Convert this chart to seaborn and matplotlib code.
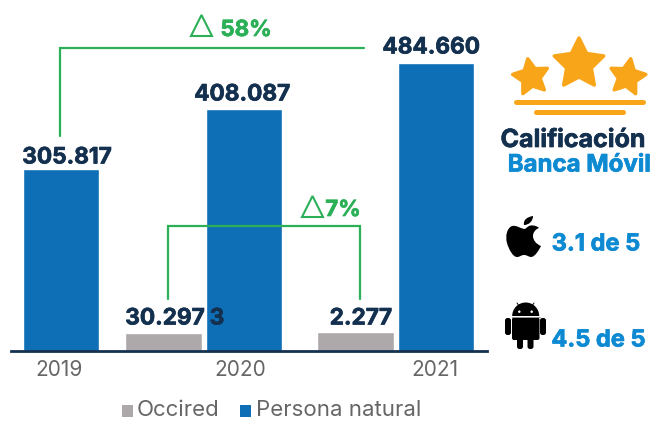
import numpy as np
import pandas as pd
import matplotlib
matplotlib.use('Agg')
import matplotlib.pyplot as plt
import matplotlib.patheffects as pe
from matplotlib.patches import Ellipse, FancyBboxPatch, Polygon, Wedge, PathPatch
from matplotlib.path import Path
import seaborn as sns

years = ['2019', '2020', '2021']
occired = [np.nan, 30297, 32277]
persona = [305817, 408087, 484660]
series_names = ['Occired', 'Persona natural']
persona_labels = ['305.817', '408.087', '484.660']
# the 2021 Occired label is split: its "3" sits behind the 2020 blue bar in the original
occired_labels = ['30.297', '3', '2.277']

NAVY = '#14304F'
BLUE = '#0F6FB6'
GRAY = '#ADA8A9'
GREEN = '#2BB057'
SKY = '#0E8AD3'
ORANGE = '#F9A51A'
FONT = ['Inter', 'DejaVu Sans']

sns.set_theme(style='white')
plt.rcParams['font.family'] = FONT

W, H = 652, 421
fig = plt.figure(figsize=(W / 100, H / 100), dpi=100)

# bars axes: spine is the baseline at y=351, x from 11 to 487
ax = fig.add_axes([11 / W, 1 - 351 / H, (487 - 11) / W, (351 - 20) / H])
df = pd.DataFrame({'year': years * 2,
                   'serie': [series_names[0]] * 3 + [series_names[1]] * 3,
                   'value': occired + persona})
sns.barplot(data=df, x='year', y='value', hue='serie', order=years, hue_order=series_names,
            palette=[GRAY, BLUE], width=0.859, gap=0.05, legend=False, saturation=1, ax=ax)
ax.set_xlim(-0.052, 2.486)
ax.set_ylim(0, 331 / 0.000594)

# 2020 group is a little closer to 2019 in the original
for p in ax.patches:
    if 0.5 < p.get_x() + p.get_width() / 2 < 1.5:
        p.set_x(p.get_x() - 0.024)

sns.despine(ax=ax, left=True)
ax.spines['bottom'].set_color(NAVY)
ax.spines['bottom'].set_linewidth(2)
ax.set_yticks([])
ax.set_xlabel('')
ax.set_ylabel('')
ax.set_xticks([])

# overlay in pixel coordinates for annotations and icons
ov = fig.add_axes([0, 0, 1, 1])
ov.set_xlim(0, W)
ov.set_ylim(H, 0)
ov.axis('off')


def txt(x, y, s, size, color, weight='bold', ha='center', va='center_baseline'):
    t = ov.text(x, y, s, fontsize=size, color=color, fontweight=weight, ha=ha, va=va)
    if weight == 'bold':
        # the original face is heavier than Inter bold
        t.set_path_effects([pe.withStroke(linewidth=0.5, foreground=color)])


for x, s in zip([59, 240.5, 435], years):
    txt(x, 368, s, 15, '#666666', 'normal')

for x, y, s in zip([67, 242, 431], [155, 92, 45], persona_labels):
    txt(x, y, s, 16.3, NAVY)
for x, y, s in zip([165, 217, 361], [316, 316, 316], occired_labels):
    txt(x, y, s, 16.3, NAVY)

# change brackets
ov.plot([60, 60, 364], [136, 47.5, 47.5], color=GREEN, lw=1.6, solid_joinstyle='miter')
ov.plot([168, 168, 360, 360], [299, 226, 226, 299], color=GREEN, lw=1.6, solid_joinstyle='miter')
for x0, y0 in [(191, 36), (302, 217)]:
    ov.add_patch(Polygon([[x0, y0], [x0 + 21, y0], [x0 + 10.5, y0 - 21]], closed=True, fill=False,
                         edgecolor=GREEN, lw=1.5))
txt(246, 28, '58%', 16, GREEN)
txt(343, 208, '7%', 16, GREEN)

# legend
ov.add_patch(plt.Rectangle((122, 405), 11, 12, color=GRAY, lw=0))
ov.add_patch(plt.Rectangle((240, 405), 11, 12, color=BLUE, lw=0))
txt(137, 416, series_names[0], 16, '#666666', 'normal', 'left', 'baseline')
txt(256, 416, series_names[1], 16, '#666666', 'normal', 'left', 'baseline')


# stars
def star(cx, cy, r, rot=0):
    ang = np.deg2rad(np.arange(10) * 36 - 90 + rot)
    rad = np.where(np.arange(10) % 2 == 0, r, r * 0.5)
    pts = np.c_[cx + rad * np.cos(ang), cy + rad * np.sin(ang)]
    ov.add_patch(Polygon(pts, closed=True, facecolor=ORANGE, edgecolor=ORANGE, lw=2.5, joinstyle='round'))


star(531, 77, 18.5, -10)
star(579, 64, 26)
star(627.5, 77, 18.5, 10)
ov.plot([516, 643], [101.5, 101.5], color=ORANGE, lw=3.6, solid_capstyle='round')
ov.plot([536, 623], [112, 112], color=ORANGE, lw=3.6, solid_capstyle='round')

txt(573, 138, 'Calificación', 18, NAVY)
txt(579.5, 163, 'Banca Móvil', 17.3, SKY)

# apple icon
C4 = Path.CURVE4
apple = [(524, 229), (520, 228), (516, 225), (512, 226), (507, 228), (505, 236), (507, 243),
         (509, 250), (513, 257), (517, 257), (520, 257), (521, 255), (524, 255), (527, 255),
         (529, 257), (531, 257), (535, 257), (539, 250), (541, 246), (536, 244), (533, 240),
         (533, 236), (533, 232), (536, 229), (539, 228), (536, 225), (531, 225), (529, 226),
         (527, 227), (526, 229), (524, 229)]
ov.add_patch(PathPatch(Path(apple, [Path.MOVETO] + [C4] * 30), color='black', lw=0))
leaf = [(524, 225), (523, 220), (527, 217), (533, 216), (533, 221), (529, 225), (524, 225)]
ov.add_patch(PathPatch(Path(leaf, [Path.MOVETO] + [C4] * 6), color='black', lw=0))


# android icon
def rbox(x, y, w, h, r=2.5):
    ov.add_patch(FancyBboxPatch((x + r, y + r), w - 2 * r, h - 2 * r, boxstyle='round,pad=%g,rounding_size=%g' % (r, r),
                                color='black', lw=0))


ov.add_patch(Wedge((525.7, 316), 13.5, 180, 360, color='black', lw=0))
ov.plot([517, 520.5], [303, 308], color='black', lw=0.7)
ov.plot([534, 530.5], [303, 308], color='black', lw=0.7)
rbox(512, 317.5, 27.5, 22.5, 2)
rbox(505, 318, 6, 17)
rbox(540, 318, 6, 17)
rbox(517, 335, 6, 14)
rbox(527.5, 335, 6, 14)
ov.plot([512, 539.5], [317, 317], color='#999999', lw=0.7)
ov.add_patch(Ellipse((519.3, 311.7), 2.5, 2.5, color='white', lw=0))
ov.add_patch(Ellipse((531.7, 311.7), 2.5, 2.5, color='white', lw=0))

txt(596, 242, '3.1 de 5', 17, SKY)
txt(598.5, 338, '4.5 de 5', 17, SKY)

fig.savefig('out.png', dpi=100)
